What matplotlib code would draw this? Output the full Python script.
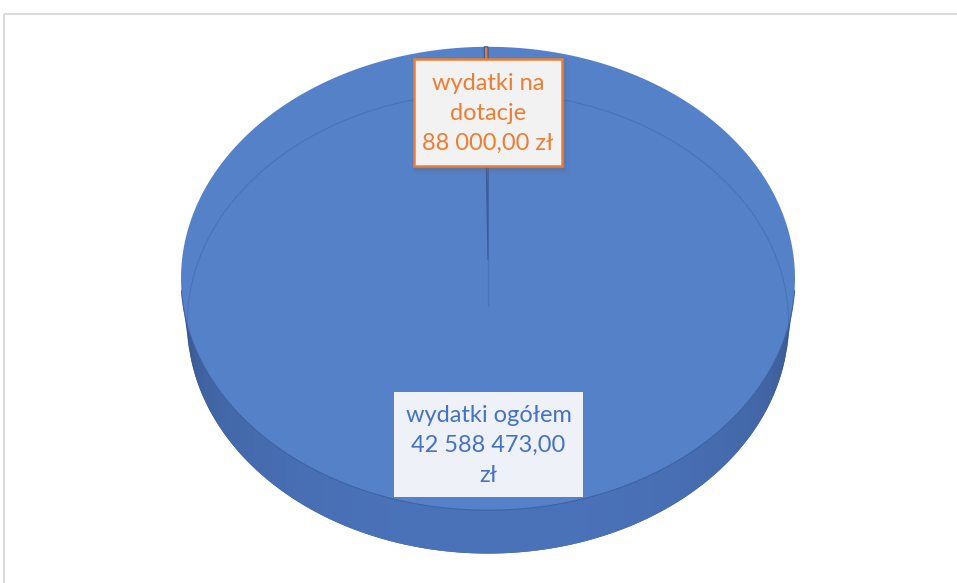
import numpy as np
import matplotlib
matplotlib.use("Agg")
import matplotlib.pyplot as plt
from matplotlib.patches import Polygon, Rectangle

# ---- data ----
categories = ["wydatki ogółem", "wydatki na dotacje"]
values = [42588473.00, 88000.00]
slice_colors = ["#5581c9", "#ed7d31"]
label_colors = ["#4472c4", "#ed7d31"]


def fmt_pln(v):
    return f"{v:,.2f}".replace(",", " ").replace(".", ",")


label_texts = [
    f"{categories[0]}\n{fmt_pln(values[0])}\nzł",
    "wydatki na\ndotacje\n" + f"{fmt_pln(values[1])} zł",
]

# ---- figure in pixel coordinates ----
W, H = 957, 583
fig = plt.figure(figsize=(W / 100, H / 100), dpi=100)
ax = fig.add_axes([0, 0, 1, 1])
ax.set_xlim(0, W)
ax.set_ylim(H, 0)
ax.axis("off")

# chart frame
ax.plot([4, W + 5], [14, 14], color="#d9d9d9", lw=1.4, solid_capstyle="butt")
ax.plot([4, 4], [14, H + 5], color="#d9d9d9", lw=1.4, solid_capstyle="butt")

# ---- perspective 3D pie ----
CX, CY = 488, 260
D = 8.24
F = 306 * D
PHI = np.radians(48.8)
HGT = 0.228
sp, cp = np.sin(PHI), np.cos(PHI)


def proj(theta_deg, z=0.0, r=1.0):
    t = np.radians(theta_deg)
    c = r * np.cos(t)
    s = r * np.sin(t)
    depth = D + s * cp - z * sp
    up = s * sp + z * cp
    return CX + F * c / depth, CY - F * up / depth


total = float(np.sum(values))
fracs = np.array(values) / total
start = 90.0
bounds = [start]
for f in fracs:
    bounds.append(bounds[-1] - 360.0 * f)

s0 = 1.0 / (D * cp)
a_lim = np.degrees(np.arcsin(s0))

light = np.array([0x4b, 0x73, 0xba]) / 255
dark = np.array([0x37, 0x55, 0x8a]) / 255

# bottom face (gives silhouette)
tt = np.linspace(0, 360, 400)
bx, by = proj(tt, -HGT)
ax.add_patch(Polygon(np.column_stack([bx, by]), closed=True,
                     fc=dark, ec="none", zorder=1))

# side wall: smooth horizontal gradient clipped to side polygon
th = np.linspace(180 + a_lim, 360 - a_lim, 300)
tx, ty = proj(th, 0)
bx2, by2 = proj(th[::-1], -HGT)
side_pts = np.vstack([np.column_stack([tx, ty]), np.column_stack([bx2, by2])])
side_poly = Polygon(side_pts, closed=True, fc="none", ec="none", zorder=2)
ax.add_patch(side_poly)
xs = np.arange(170, 810)
cc = np.clip((xs - CX) / 306.0, -1, 1)
ss = np.sqrt(1 - cc ** 2)
w = np.clip((ss - s0) / (1 - s0), 0, 1) ** 0.5
cols = dark[None, :] + (light - dark)[None, :] * w[:, None]
img = np.repeat(cols[None, :, :], 2, axis=0)
im = ax.imshow(img, extent=[170, 810, 560, 250], aspect="auto",
               interpolation="bilinear", zorder=2)
im.set_clip_path(side_poly)

# top face wedges
cx0, cy0 = proj(0, 0, r=0)
for i in range(len(values)):
    a1, a2 = bounds[i], bounds[i + 1]
    n = max(3, int(abs(a1 - a2) * 2))
    arc = np.linspace(a1, a2, n)
    ax_, ay_ = proj(arc, 0)
    pts = np.vstack([[cx0, cy0], np.column_stack([ax_, ay_])])
    if i == 0:
        ax.add_patch(Polygon(pts, closed=True, fc=slice_colors[i],
                             ec="none", zorder=3))
    else:
        ax.add_patch(Polygon(pts, closed=True, fc=slice_colors[i],
                             ec="#3a5c98", lw=0.9, zorder=4))

# front edge of top face
fe = np.linspace(180 + a_lim - 3, 360 - a_lim + 3, 300)
fx, fy = proj(fe, 0)
ax.plot(fx, fy, color="#3f64a3", lw=0.8, zorder=5)

# faint back edge of bottom face and centre line (seen through)
be = np.linspace(-a_lim, 180 + a_lim, 300)
gx, gy = proj(be, -HGT)
ax.plot(gx, gy, color="#4068aa", lw=0.8, alpha=0.55, zorder=5)
c1 = proj(0, -HGT, r=0)
ax.plot([cx0, c1[0]], [cy0, c1[1]], color="#4068aa", lw=1.0,
        alpha=0.5, zorder=5)

# ---- data labels ----
FONT = ["Lato", "DejaVu Sans"]
# orange label (small slice)
ox, oy, ow, oh = 414, 59, 148, 107
for k, a in enumerate([0.10, 0.07, 0.04]):
    g = 1.5 + k * 1.5
    ax.add_patch(Rectangle((ox - g + 2, oy - g + 3), ow + 2 * g, oh + 2 * g,
                           fc="#7a5a40", ec="none", alpha=a, zorder=6))
ax.add_patch(Rectangle((ox, oy), ow, oh, fc="#f2f2f3", ec="#ed7d31",
                       lw=1.8, zorder=7))
ax.text(ox + ow / 2, oy + oh / 2 + 1, label_texts[1], ha="center",
        va="center", multialignment="center", color=label_colors[1],
        fontsize=17, family=FONT, linespacing=1.5, zorder=8)

# blue label (large slice)
bx0, by0, bw, bh = 394, 392, 189, 105
ax.add_patch(Rectangle((bx0, by0), bw, bh, fc="#eef1f8", ec="none",
                       zorder=7))
ax.text(bx0 + bw / 2, by0 + bh / 2 + 1, label_texts[0], ha="center",
        va="center", multialignment="center", color=label_colors[0],
        fontsize=17, family=FONT, linespacing=1.5, zorder=8)

fig.savefig("out.png", dpi=100)
